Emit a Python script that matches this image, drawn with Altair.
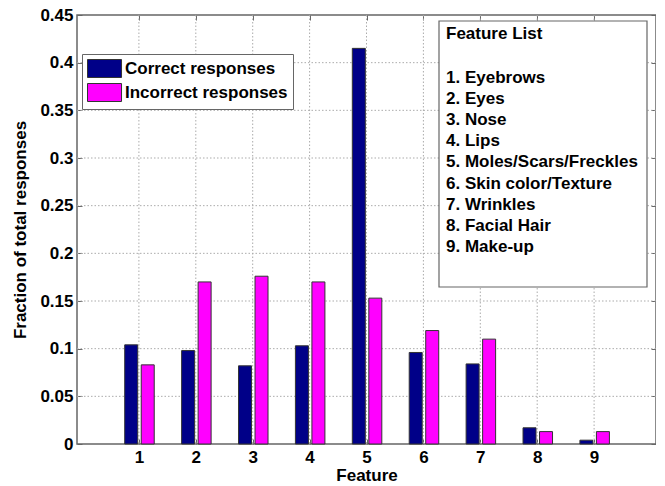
import altair as alt
import pandas as pd

features = [1, 2, 3, 4, 5, 6, 7, 8, 9]
correct = [0.104, 0.098, 0.082, 0.103, 0.415, 0.096, 0.084, 0.017, 0.004]
incorrect = [0.083, 0.170, 0.176, 0.170, 0.153, 0.119, 0.110, 0.013, 0.013]
series = ["Correct responses", "Incorrect responses"]
colors = ["#000088", "#FF00FF"]
y_ticks = [0, 0.05, 0.1, 0.15, 0.2, 0.25, 0.3, 0.35, 0.4, 0.45]
list_title = "Feature List"
feature_list = [
    "1. Eyebrows",
    "2. Eyes",
    "3. Nose",
    "4. Lips",
    "5. Moles/Scars/Freckles",
    "6. Skin color/Texture",
    "7. Wrinkles",
    "8. Facial Hair",
    "9. Make-up",
]

offsets = {series[0]: -0.135, series[1]: 0.155}
rows = []
for f, c, i in zip(features, correct, incorrect):
    rows.append({"feature": f, "pos": f + offsets[series[0]], "value": c, "series": series[0]})
    rows.append({"feature": f, "pos": f + offsets[series[1]], "value": i, "series": series[1]})
df = pd.DataFrame(rows)
grid_x = [{"gx": f} for f in features]
grid_y = [{"gy": v} for v in y_ticks[1:-1]]

FONT = "Liberation Sans"
FS = 17
FRAME = "#666666"
GRID = "#ababab"
W, H = 579, 429

xscale = alt.Scale(domain=[0, 10], nice=False, zero=False)
yscale = alt.Scale(domain=[0, 0.45], nice=False)

vgrid = alt.Chart(alt.Data(values=grid_x)).mark_rule(
    color=GRID, strokeDash=[1.5, 2], strokeWidth=1, opacity=1
).encode(
    x=alt.X("gx:Q", scale=xscale, axis=None),
    y=alt.value(0), y2=alt.value(H),
)
hgrid = alt.Chart(alt.Data(values=grid_y)).mark_rule(
    color=GRID, strokeDash=[1.5, 2], strokeWidth=1, opacity=1
).encode(
    y=alt.Y("gy:Q", scale=yscale, axis=None),
    x=alt.value(0), x2=alt.value(W),
)

bars = alt.Chart(df).mark_bar(size=13, stroke="#333333", strokeWidth=1).encode(
    x=alt.X("pos:Q", scale=xscale,
            axis=alt.Axis(values=features, title="Feature", orient="bottom", offset=-5,
                          tickSize=5, tickColor=FRAME, domain=False, labelPadding=5,
                          labelFont=FONT, labelFontSize=FS, labelFontWeight="bold",
                          labelColor="#000000", titleFont=FONT, titleFontSize=FS,
                          titleFontWeight="bold", titleColor="#000000", titlePadding=2,
                          grid=False)),
    y=alt.Y("value:Q", scale=yscale,
            axis=alt.Axis(values=y_ticks, title="Fraction of total responses", orient="left",
                          offset=-5, tickSize=5, tickColor=FRAME, domain=False, labelPadding=4,
                          labelFont=FONT, labelFontSize=FS, labelFontWeight="bold",
                          labelColor="#000000", titleFont=FONT, titleFontSize=FS,
                          titleFontWeight="bold", titleColor="#000000", titlePadding=10,
                          grid=False, labelExpr="format(datum.value, '.2~f')")),
    color=alt.Color("series:N", scale=alt.Scale(domain=series, range=colors),
                    legend=alt.Legend(title=None, orient="none", legendX=5, legendY=39,
                                      fillColor="#ffffff", strokeColor=FRAME, padding=5,
                                      symbolType="M-1,-1L2.78,-1L2.78,1L-1,1Z",
                                      symbolSize=324, symbolStrokeColor="#333333",
                                      symbolStrokeWidth=1, symbolOpacity=1,
                                      labelOffset=19, rowPadding=1, labelLimit=400,
                                      labelFont=FONT, labelFontSize=FS, labelFontWeight="bold",
                                      labelColor="#000000")),
)

ticks = alt.Chart(df).mark_point(opacity=0).encode(
    x=alt.X("pos:Q", scale=xscale,
            axis=alt.Axis(values=features, title=None, orient="top", offset=-5, tickSize=5,
                          tickColor=FRAME, domain=False, labels=False, grid=False)),
    y=alt.Y("value:Q", scale=yscale,
            axis=alt.Axis(values=y_ticks, title=None, orient="right", offset=-5, tickSize=5,
                          tickColor=FRAME, domain=False, labels=False, grid=False)),
)

one = alt.Data(values=[{"k": 1}])
box = alt.Chart(one).mark_rect(
    fill="#ffffff", stroke=FRAME, strokeWidth=1.2
).encode(x=alt.value(362), x2=alt.value(570), y=alt.value(6), y2=alt.value(272))

box_title = alt.Chart(one).mark_text(
    align="left", baseline="top", font=FONT, fontSize=FS, fontWeight="bold", color="#000000"
).encode(x=alt.value(369), y=alt.value(11), text=alt.value(list_title))

box_text = alt.Chart(one).mark_text(
    align="left", baseline="top", font=FONT, fontSize=FS, fontWeight="bold",
    color="#000000", lineHeight=21.1
).encode(x=alt.value(369), y=alt.value(55), text=alt.value(feature_list))

chart = alt.layer(vgrid, hgrid, bars, ticks, box, box_title, box_text).resolve_axis(
    x="independent", y="independent"
).properties(
    width=W, height=H,
    autosize=alt.AutoSizeParams(type="none"),
    padding={"left": 69, "top": 7, "right": 0, "bottom": 42},
).configure_view(stroke=FRAME, strokeWidth=1.5)

chart.save("out.html", embed_options={"renderer": "svg", "actions": False})
